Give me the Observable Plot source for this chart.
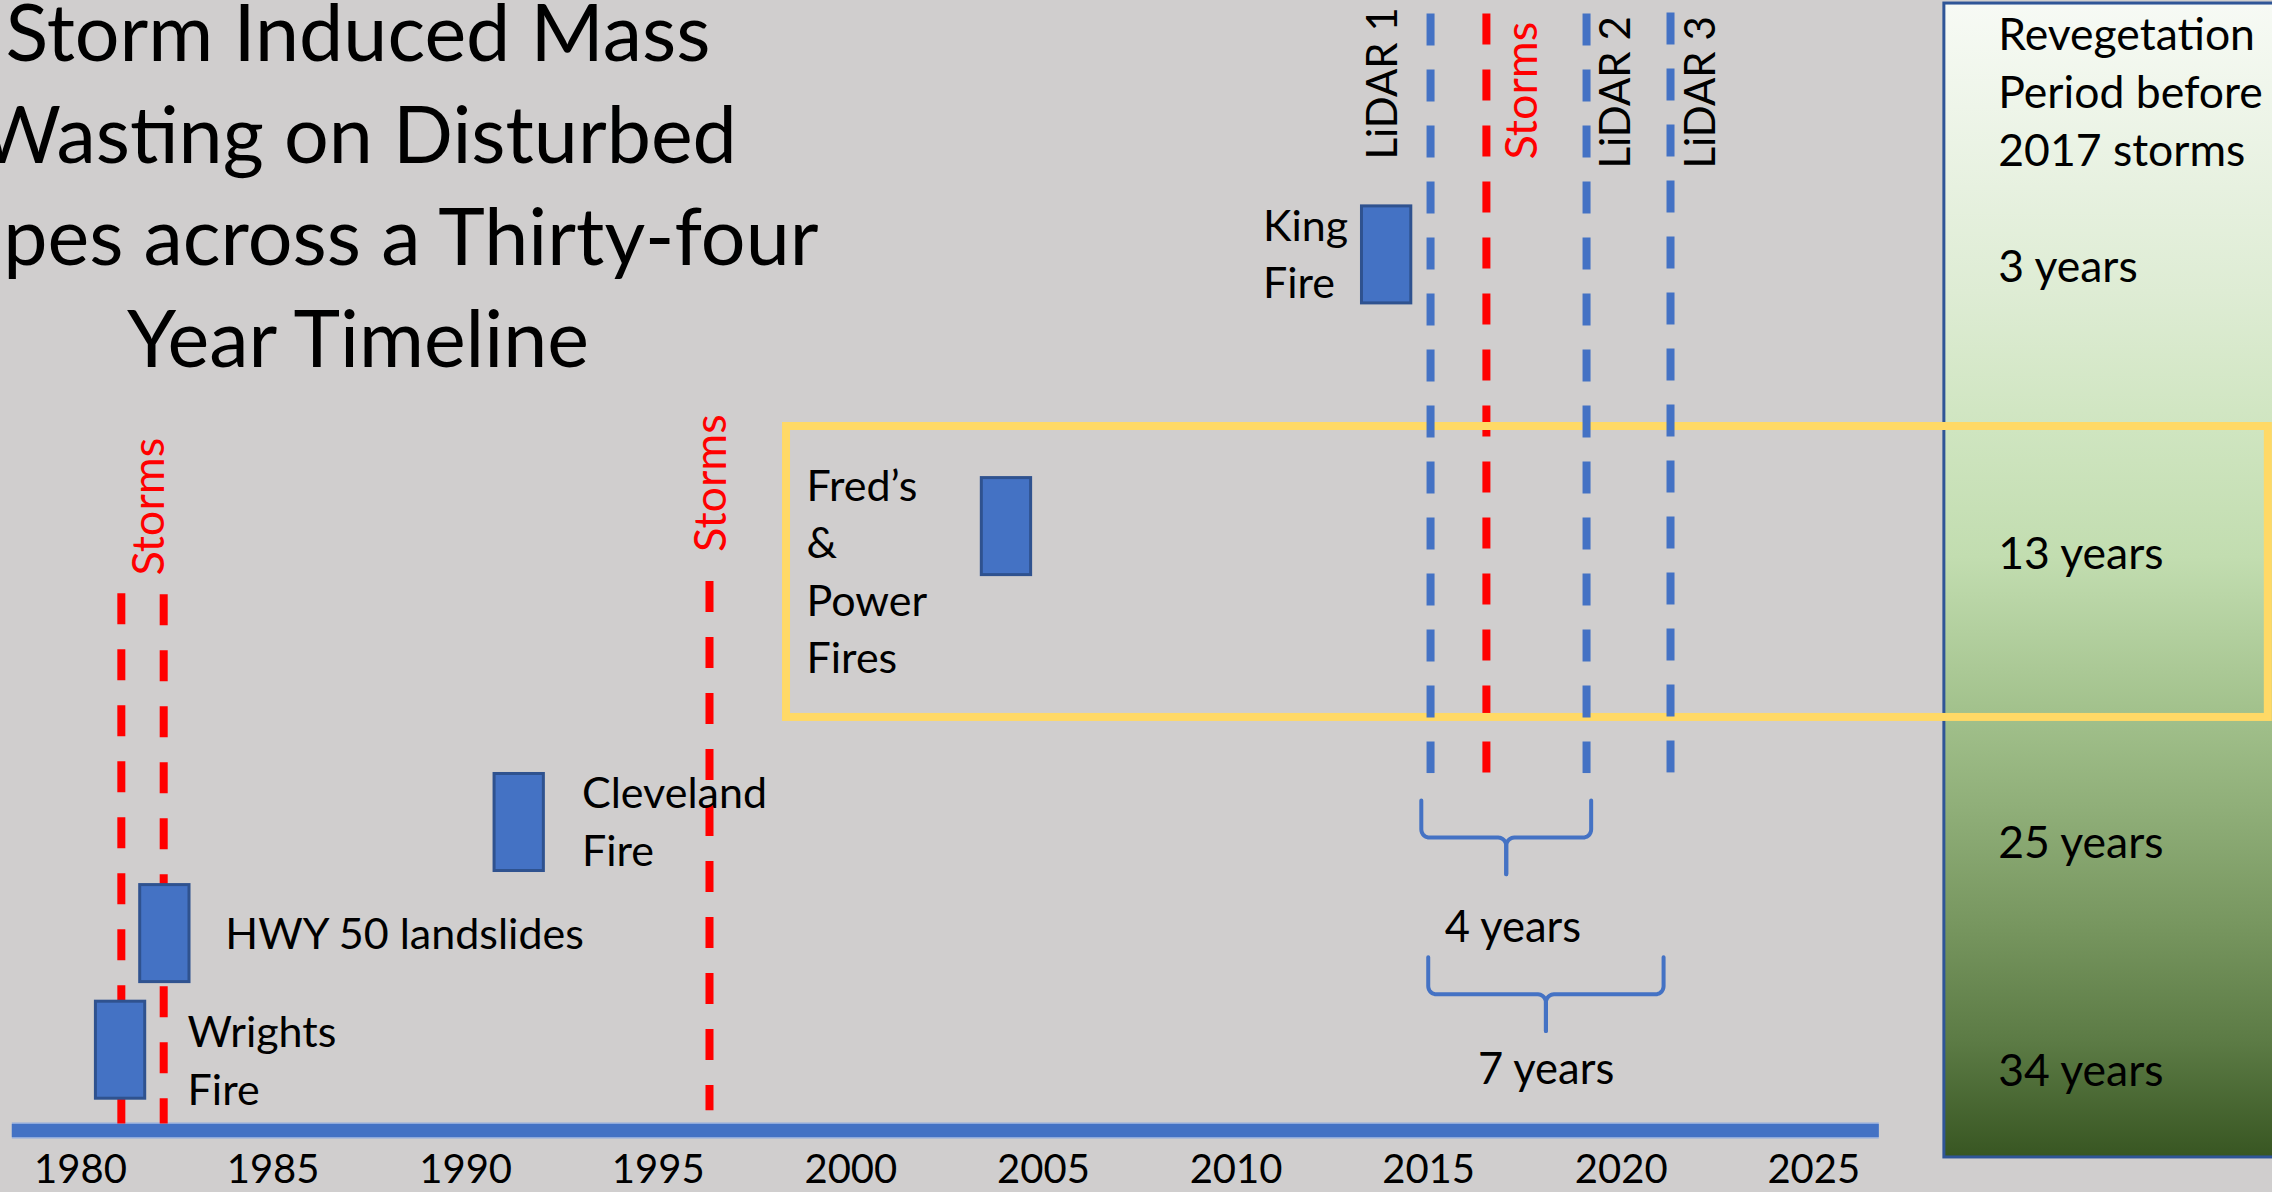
<!DOCTYPE html>
<html><head><meta charset="utf-8">
<script src="https://cdn.jsdelivr.net/npm/d3@7"></script>
<script src="https://cdn.jsdelivr.net/npm/@observablehq/plot@0.6"></script>
<style>
html,body{margin:0;padding:0;background:#d0cece;overflow:hidden;}
#wrap{position:relative;width:2272px;height:1192px;overflow:hidden;}
#wrap svg{position:absolute;left:0;top:0;}
#title{position:absolute;left:358px;top:-19.6px;font-family:Lato;font-size:79px;line-height:102px;color:#000;white-space:nowrap;z-index:2;}
#title div{width:max-content;transform:translateX(-50%);}
</style></head><body>
<div id="wrap"><div id="title"></div></div>
<script>
// ---------- data ----------
const titleLines = ["Storm Induced Mass", "Wasting on Disturbed", "Slopes across a Thirty-four", "Year Timeline"];

const tickYears = [1980, 1985, 1990, 1995, 2000, 2005, 2010, 2015, 2020, 2025];
const tickLabels = ["1980", "1985", "1990", "1995", "2000", "2005", "2010", "2015", "2020", "2025"];

const timelineExtent = [1978.23, 2026.7];

const eventNames = ["Wrights\nFire", "HWY 50 landslides", "Cleveland\nFire", "Fred’s\n&\nPower\nFires", "King\nFire"];
const eventYears = [1981.04, 1982.19, 1991.39, 2004.04, 2013.91];
const eventLevels = [0.73, 1.79, 2.80, 5.49, 7.96];
const eventLabelYears = [1982.78, 1983.76, 1993.02, 1998.85, 2010.70];
const eventLabelLevels = [0.236, 1.648, 2.409, 4.155, 7.566];

const stormYears = [1981.06, 1982.16, 1996.33, 2016.5];
const stormTops = [4.88, 4.87, 4.99, 10.15];
const stormBottoms = [0.06, 0.06, 0.18, 3.245];

const lidarYears = [2015.05, 2019.1, 2021.28];
const lidarTops = [10.15, 10.15, 10.16];
const lidarBottoms = [3.245, 3.245, 3.245];

const markerLabels = ["Storms", "Storms", "Storms", "LiDAR 1", "LiDAR 2", "LiDAR 3"];
const markerKinds = ["storm", "storm", "storm", "lidar", "lidar", "lidar"];
const markerLabelYears = [1982.16, 1996.76, 2017.82, 2014.18, 2020.24, 2022.44];
const markerLabelLevels = [5.045, 5.259, 8.827, 8.827, 8.745, 8.745];

const braceStarts = [2014.81, 2014.99];
const braceEnds = [2019.22, 2021.10];
const braceTops = [3.0, 1.575];
const braceLabels = ["4 years", "7 years"];
const braceLabelYears = [2017.19, 2018.05];
const braceLabelLevels = [1.712, 0.427];

const panelHeading = "Revegetation\nPeriod before\n2017 storms";
const periodLabels = ["3 years", "13 years", "25 years", "34 years"];
const periodLevels = [7.718, 5.104, 2.477, 0.404];
const panelExtentX = [2028.39, 2040];
const panelExtentY = [-0.245, 10.245];
const panelTextYear = 2029.79;
const panelHeadingLevel = 8.766;

const highlightX = [1998.33, 2036.8];
const highlightY = [3.755, 6.4];

// ---------- tables ----------
const events = eventNames.map((name, i) => ({name, year: eventYears[i], level: eventLevels[i], lx: eventLabelYears[i], ly: eventLabelLevels[i]}));
const storms = stormYears.map((year, i) => ({year, top: stormTops[i], bottom: stormBottoms[i]}));
const lidars = lidarYears.map((year, i) => ({year, top: lidarTops[i], bottom: lidarBottoms[i]}));
const markers = markerLabels.map((label, i) => ({label, kind: markerKinds[i], x: markerLabelYears[i], y: markerLabelLevels[i]}));
const periods = periodLabels.map((label, i) => ({label, y: periodLevels[i]}));
const braces = braceStarts.map((s, i) => ({start: s, end: braceEnds[i], top: braceTops[i], label: braceLabels[i], lx: braceLabelYears[i], ly: braceLabelLevels[i]}));

// brace geometry (style constants)
const halfW = 0.64, halfH = 0.441;
const braceMidDrop = 0.337, braceTipDrop = 0.67, rx = 0.21, ry = 0.075, steps = 8;
const bracePts = [];
braces.forEach((b, bi) => {
  const cx = (b.start + b.end) / 2, mid = b.top - braceMidDrop, tip = b.top - braceTipDrop;
  [[b.start, 1], [b.end, -1]].forEach(([xe, s], side) => {
    const z = bi * 2 + side;
    bracePts.push({x: xe, y: b.top, z});
    for (let k = 0; k <= steps; k++) {
      const t = k / steps * Math.PI / 2;
      bracePts.push({x: xe + s * (rx - rx * Math.cos(t)), y: mid + ry - ry * Math.sin(t), z});
    }
    for (let k = 0; k <= steps; k++) {
      const t = k / steps * Math.PI / 2;
      bracePts.push({x: cx - s * (rx - rx * Math.sin(t)), y: mid - ry + ry * Math.cos(t), z});
    }
    bracePts.push({x: cx, y: tip, z});
  });
});

const W = 2272, H = 1192;
const blue = "#4472c4", red = "#ff0000";

const plot = Plot.plot({
  width: W, height: H,
  marginLeft: 80, marginRight: W - 1813.3, marginTop: 30, marginBottom: 62,
  x: {domain: [1980, 2025], label: null},
  y: {domain: [0, 10], axis: null},
  style: {background: "#d0cece", fontFamily: "Lato", color: "#000"},
  marks: [
    // revegetation panel
    Plot.rect([0], {x1: panelExtentX[0], x2: panelExtentX[1], y1: panelExtentY[0], y2: panelExtentY[1], fill: "url(#vegGrad)", stroke: "#2f5597", strokeWidth: 3}),
    // timeline bar
    Plot.ruleY([0], {x1: timelineExtent[0], x2: timelineExtent[1], stroke: "#8faadc", strokeWidth: 16}),
    Plot.ruleY([0], {x1: timelineExtent[0], x2: timelineExtent[1], stroke: blue, strokeWidth: 13}),
    // storm lines
    Plot.ruleX(storms, {x: "year", y1: "top", y2: "bottom", stroke: red, strokeWidth: 8, strokeDasharray: "31,25"}),
    // event boxes
    Plot.rect(events, {x1: d => d.year - halfW, x2: d => d.year + halfW, y1: d => d.level - halfH, y2: d => d.level + halfH, fill: blue, stroke: "#2f528f", strokeWidth: 3}),
    // event labels
    Plot.text(events, {x: "lx", y: "ly", text: "name", textAnchor: "start", lineAnchor: "bottom", fontSize: 43, lineHeight: 1.337}),
    // highlight box
    Plot.rect([0], {x1: highlightX[0], x2: highlightX[1], y1: highlightY[0], y2: highlightY[1], fill: "none", stroke: "#ffd966", strokeWidth: 8}),
    // lidar lines
    Plot.ruleX(lidars, {x: "year", y1: "top", y2: "bottom", stroke: blue, strokeWidth: 8, strokeDasharray: "32,24"}),
    // vertical labels
    Plot.text(markers, {x: "x", y: "y", text: "label", rotate: -90, textAnchor: "start", lineAnchor: "bottom", fontSize: d => d.kind === "storm" ? 45 : 42, fill: d => d.kind === "storm" ? red : "#000"}),
    // braces
    Plot.line(bracePts, {x: "x", y: "y", z: "z", stroke: blue, strokeWidth: 4, curve: "linear"}),
    Plot.text(braces, {x: "lx", y: "ly", text: "label", textAnchor: "middle", lineAnchor: "bottom", fontSize: 43.5}),
    // panel text
    Plot.text([panelHeading], {x: panelTextYear, y: panelHeadingLevel, text: d => d, textAnchor: "start", lineAnchor: "bottom", fontSize: 44.5, lineHeight: 1.303}),
    Plot.text(periods, {x: panelTextYear, y: "y", text: "label", textAnchor: "start", lineAnchor: "bottom", fontSize: 44.5}),
    // axis
    Plot.axisX({ticks: tickYears, tickFormat: d => tickLabels[tickYears.indexOf(d)], tickSize: 0, tickPadding: 24, fontSize: 40, fill: "#000"})
  ]
});

// gradient definition
const ns = "http://www.w3.org/2000/svg";
const defs = document.createElementNS(ns, "defs");
const grad = document.createElementNS(ns, "linearGradient");
grad.setAttribute("id", "vegGrad");
grad.setAttribute("x1", "0"); grad.setAttribute("y1", "0"); grad.setAttribute("x2", "0"); grad.setAttribute("y2", "1");
[[0, "#f7faf5"], [0.25, "#deecd4"], [0.37, "#cfe5c0"], [0.48, "#c2ddb0"], [0.61, "#a3c28d"], [0.70, "#8fae78"], [0.80, "#77965f"], [0.90, "#5c7b45"], [1, "#385622"]].forEach(([o, c]) => {
  const st = document.createElementNS(ns, "stop");
  st.setAttribute("offset", o); st.setAttribute("stop-color", c);
  grad.appendChild(st);
});
defs.appendChild(grad);
plot.insertBefore(defs, plot.firstChild);

const wrap = document.getElementById("wrap");
wrap.insertBefore(plot, wrap.firstChild);
document.getElementById("title").innerHTML = titleLines.map(l => `<div>${l}</div>`).join("");
</script></body></html>
